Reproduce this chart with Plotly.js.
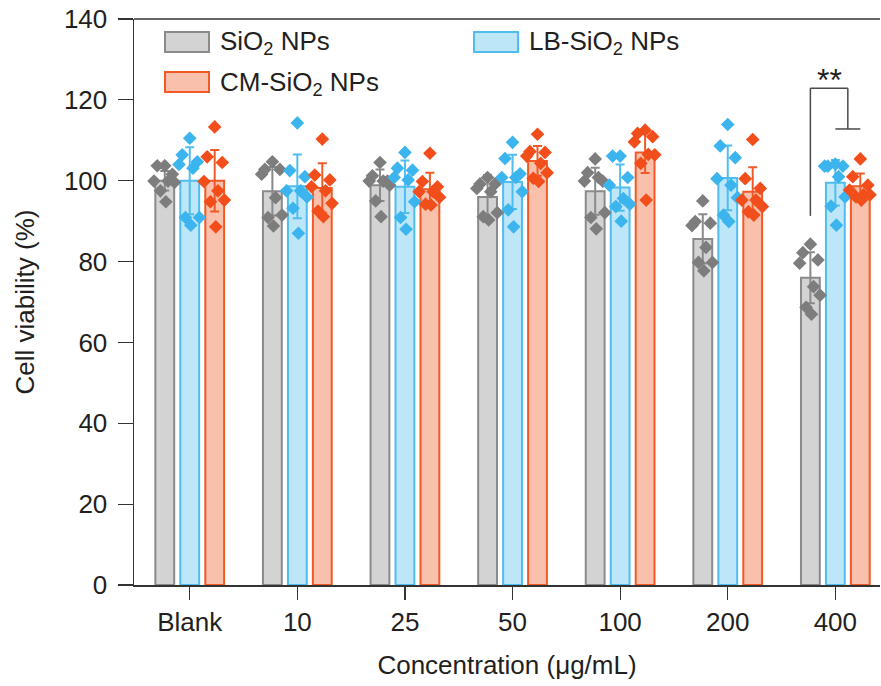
<!DOCTYPE html>
<html>
<head>
<meta charset="utf-8">
<script src="https://cdn.plot.ly/plotly-3.0.1.min.js"></script>
<style>html,body{margin:0;padding:0;background:#fff;}#chart{width:881px;height:686px;}</style>
</head>
<body>
<div id="chart"></div>
<script>
// ---- data ----
const categories = ["Blank", "10", "25", "50", "100", "200", "400"];
const seriesNames = ["SiO<sub>2</sub> NPs", "LB-SiO<sub>2</sub> NPs", "CM-SiO<sub>2</sub> NPs"];

const meanSiO2 = [100, 97.4, 98.9, 96.0, 97.4, 85.6, 76.0];
const meanLB   = [100, 98.6, 98.5, 99.7, 98.3, 100.7, 99.5];
const meanCM   = [100, 98.2, 97.9, 104.9, 107.0, 97.3, 98.6];

const sdSiO2 = [2.4, 6.0, 3.9, 5.4, 5.8, 6.1, 6.3];
const sdLB   = [8.3, 7.9, 6.5, 6.7, 5.7, 8.0, 5.6];
const sdCM   = [7.6, 6.1, 4.1, 3.7, 5.1, 6.0, 3.2];

const ptsSiO2 = [
  [103.7, 103.7, 101.6, 99.9, 99.9, 99.6, 97.5, 94.8],
  [104.7, 102.8, 102.8, 101.6, 95.8, 91.5, 90.9, 88.8],
  [104.5, 101.2, 99.9, 99.9, 99.9, 98.9, 95.0, 91.1],
  [100.8, 99.2, 99.2, 98.1, 97.3, 92.1, 91.1, 90.3],
  [105.4, 102.0, 99.9, 99.9, 100.8, 92.1, 90.9, 88.1],
  [95.0, 89.9, 89.5, 88.9, 83.5, 79.8, 79.8, 77.7],
  [84.3, 82.2, 80.4, 79.6, 73.8, 71.7, 68.7, 67.0]
];
const ptsLB = [
  [110.5, 106.4, 104.7, 104.0, 103.1, 90.9, 90.9, 89.0],
  [114.3, 102.5, 101.0, 97.5, 97.5, 96.0, 93.2, 87.0],
  [107.0, 103.1, 102.6, 100.8, 100.2, 94.8, 90.9, 88.0],
  [109.5, 105.5, 101.7, 100.8, 100.8, 97.3, 92.8, 88.6],
  [106.1, 106.1, 100.8, 98.9, 95.6, 94.2, 93.6, 90.0],
  [113.9, 108.6, 105.7, 100.5, 98.9, 95.8, 91.5, 89.9],
  [104.1, 103.6, 103.6, 103.6, 101.0, 96.0, 93.7, 89.0]
];
const ptsCM = [
  [113.3, 105.9, 104.5, 99.8, 97.5, 95.2, 94.8, 88.6],
  [110.3, 101.4, 100.2, 98.5, 97.5, 94.4, 92.5, 91.1],
  [106.8, 99.8, 98.5, 97.3, 97.3, 95.9, 94.2, 94.0],
  [111.5, 107.2, 107.0, 106.1, 104.3, 102.0, 100.6, 99.8],
  [112.5, 111.7, 110.9, 109.6, 106.5, 106.4, 104.3, 95.2],
  [110.2, 100.5, 98.1, 95.2, 95.2, 93.6, 92.3, 91.5],
  [105.4, 101.0, 98.9, 97.7, 96.5, 96.5, 96.0, 95.2]
];

// significance bracket (400 µg/mL: SiO2 vs LB/CM)
const sigLabel = "**";
const sigGroup = 6;

// ---- style ----
const offsets = [-0.232, 0, 0.232];
const barW = 0.175;
const jitter = [0.0, -0.07, 0.07, -0.1, 0.03, 0.09, -0.04, 0.01];
const fills = ["#d3d3d3", "#bde6f8", "#f9c0ac"];
const lines = ["#8a8a8a", "#4fbdf0", "#f15a27"];
const dots  = ["#7d7d7d", "#3cb4ee", "#f24e1c"];
const FONT = "Liberation Sans, Arial, sans-serif";
const TXT = "#231f20";
const FS = 26;

const means = [meanSiO2, meanLB, meanCM];
const sds = [sdSiO2, sdLB, sdCM];
const pts = [ptsSiO2, ptsLB, ptsCM];

const traces = [];
for (let s = 0; s < 3; s++) {
  traces.push({
    type: "bar",
    x: categories.map((c, i) => i + offsets[s]),
    y: means[s],
    width: barW,
    marker: {color: fills[s], line: {color: lines[s], width: 2}},
    error_y: {type: "data", array: sds[s], visible: true, color: lines[s], thickness: 2, width: 4.5},
    name: seriesNames[s],
    showlegend: false,
    hoverinfo: "y"
  });
}
for (let s = 0; s < 3; s++) {
  const xs = [], ys = [];
  pts[s].forEach((arr, i) => arr.forEach((v, k) => { xs.push(i + offsets[s] + jitter[k]); ys.push(v); }));
  traces.push({
    type: "scatter", mode: "markers", x: xs, y: ys,
    marker: {symbol: "diamond", size: 10.5, color: dots[s]},
    showlegend: false, hoverinfo: "y"
  });
}

// manual legend (paper coords derived from pixel layout)
const L = 134, T = 19, W = 746, H = 566;
const px = x => (x - L) / W;
const py = y => (T + H - y) / H;
const legendItems = [
  {x: 165, y: 32}, {x: 474, y: 32}, {x: 165, y: 72}
];
const shapes = [];
const annotations = [];
legendItems.forEach((p, s) => {
  shapes.push({type: "rect", xref: "paper", yref: "paper",
    x0: px(p.x), x1: px(p.x + 44), y0: py(p.y + 20), y1: py(p.y),
    fillcolor: fills[s], line: {color: lines[s], width: 2}});
  annotations.push({xref: "paper", yref: "paper", x: px(p.x + 53), y: py(p.y + 11),
    xanchor: "left", yanchor: "middle", showarrow: false, text: seriesNames[s],
    font: {family: FONT, size: FS, color: TXT}});
});
// top frame line
shapes.push({type: "line", xref: "paper", yref: "paper", x0: 0, x1: 1, y0: 1, y1: 1,
  line: {color: "#333", width: 1.5}});

// significance bracket
const g = sigGroup;
const xl = g + offsets[0], xm = g + (offsets[1] + offsets[2]) / 2;
const bl = "#4a4a4a";
shapes.push({type: "line", xref: "x", yref: "y", x0: xl, x1: xl, y0: 91.3, y1: 122.9, line: {color: bl, width: 1.5}});
shapes.push({type: "line", xref: "x", yref: "y", x0: xl, x1: xm, y0: 122.9, y1: 122.9, line: {color: bl, width: 1.5}});
shapes.push({type: "line", xref: "x", yref: "y", x0: xm, x1: xm, y0: 122.9, y1: 112.8, line: {color: bl, width: 1.5}});
shapes.push({type: "line", xref: "x", yref: "y", x0: g + offsets[1], x1: g + offsets[2], y0: 112.8, y1: 112.8, line: {color: bl, width: 1.5}});
annotations.push({xref: "x", yref: "y", x: (xl + xm) / 2, y: 122.9, yanchor: "bottom", xanchor: "center",
  showarrow: false, text: sigLabel, font: {family: FONT, size: 32, color: TXT}, yshift: -12});

const layout = {
  width: 881, height: 686,
  margin: {l: L, r: 1, t: T, b: 686 - T - H},
  paper_bgcolor: "#fff", plot_bgcolor: "#fff",
  barmode: "overlay",
  showlegend: false,
  font: {family: FONT, color: TXT},
  xaxis: {
    range: [-0.518, 6.415], tickmode: "array",
    tickvals: categories.map((c, i) => i), ticktext: categories,
    showgrid: false, zeroline: false, showline: true, linecolor: "#333", linewidth: 1.5,
    ticks: "outside", ticklen: 13, tickwidth: 1.2, tickcolor: "#333",
    tickfont: {family: FONT, size: FS, color: TXT},
    title: {text: "Concentration (μg/mL)", font: {family: FONT, size: FS, color: TXT}, standoff: 20},
    automargin: false,
    fixedrange: true
  },
  yaxis: {
    range: [0, 140], tickvals: [0, 20, 40, 60, 80, 100, 120, 140],
    showgrid: false, zeroline: false, showline: true, linecolor: "#333", linewidth: 1.5,
    ticks: "outside", ticklen: 15, tickwidth: 1.2, tickcolor: "#333",
    ticklabelstandoff: 5,
    tickfont: {family: FONT, size: FS, color: TXT},
    title: {text: "Cell viability (%)", font: {family: FONT, size: FS, color: TXT}, standoff: 22},
    automargin: false,
    fixedrange: true
  },
  shapes: shapes,
  annotations: annotations
};

Plotly.newPlot("chart", traces, layout, {displayModeBar: false, staticPlot: true});
</script>
</body>
</html>
